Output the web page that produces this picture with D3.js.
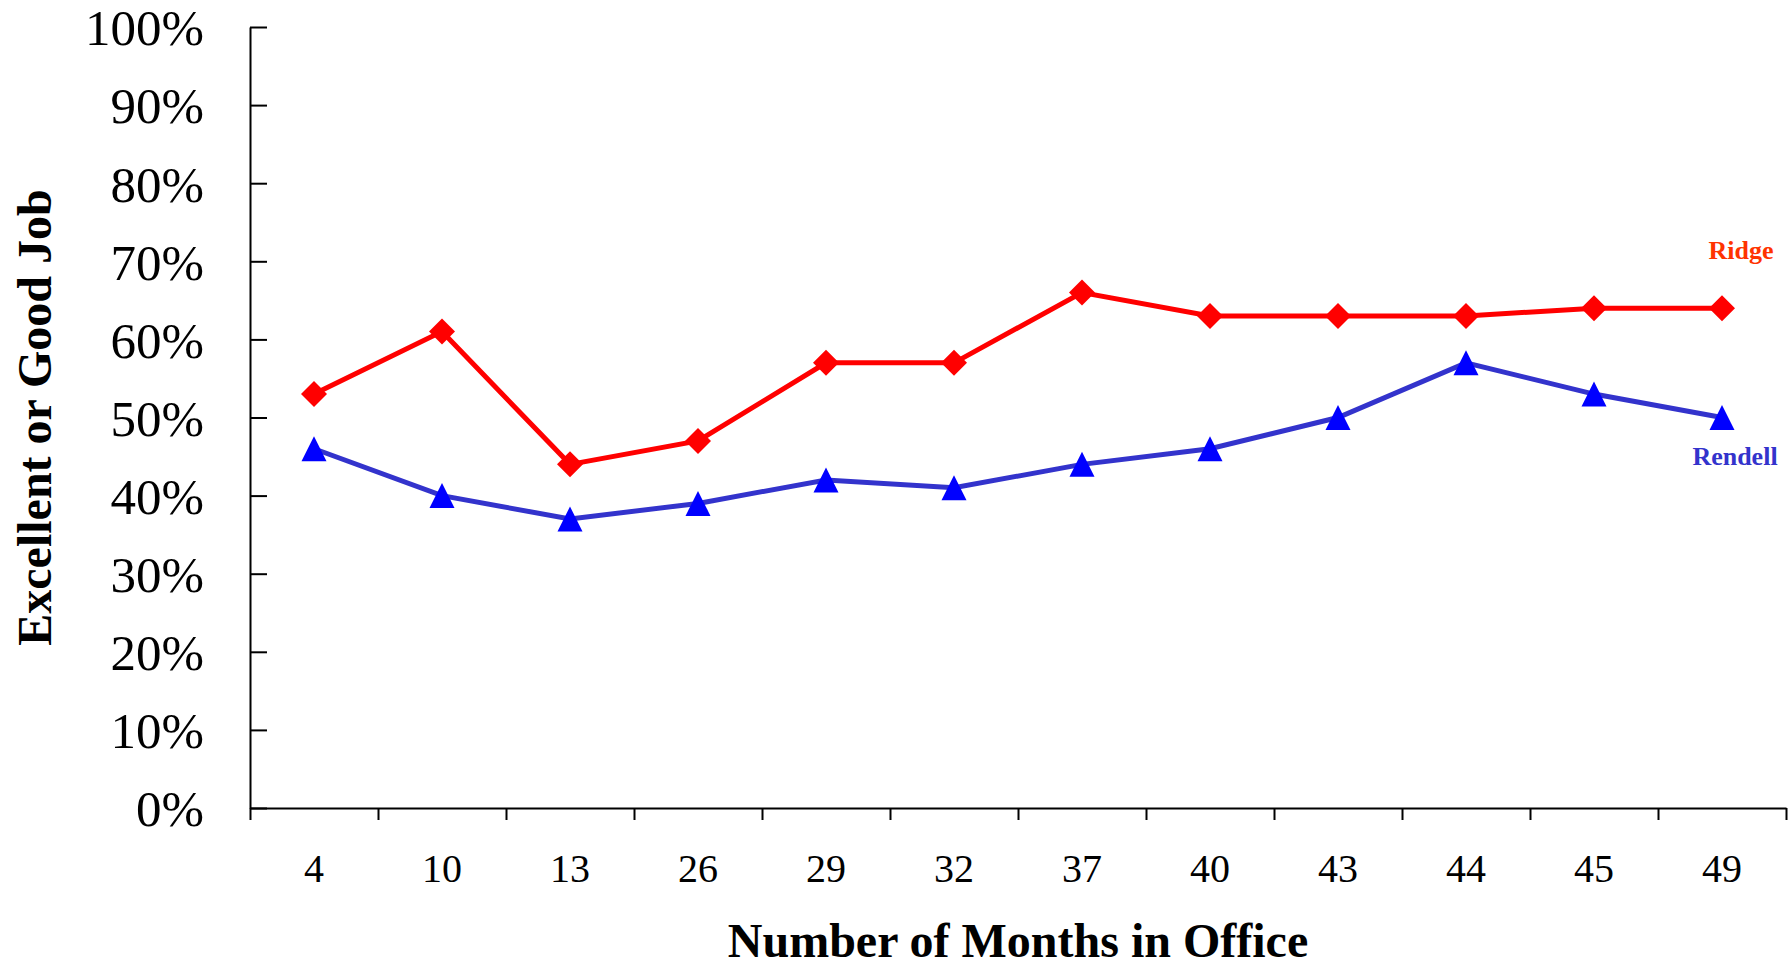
<!DOCTYPE html>
<html>
<head>
<meta charset="utf-8">
<script src="https://cdn.jsdelivr.net/npm/d3@7"></script>
<style>
  body { margin: 0; background: #fff; }
  svg { display: block; font-family: "Liberation Serif", "Times New Roman", serif; }
</style>
</head>
<body>
<div id="chart"></div>
<script>
// months in office (categories) and approval shares in percent
var months = ["4", "10", "13", "26", "29", "32", "37", "40", "43", "44", "45", "49"];
var ridge = [53, 61, 44, 47, 57, 57, 66, 63, 63, 63, 64, 64];
var rendell = [46, 40, 37, 39, 42, 41, 44, 46, 50, 57, 53, 50];
var yTicks = [0, 10, 20, 30, 40, 50, 60, 70, 80, 90, 100];

const chartWidth = 1792;
const chartHeight = 969;

const marginTop = 27;
const marginLeft = 250;
const plotRight = 1786;
const plotBottom = 808;

const serif = "'Liberation Serif', 'Times New Roman', serif";

var svg = d3.select("#chart")
            .append("svg")
            .attr("width", chartWidth)
            .attr("height", chartHeight);

var xScale = d3.scaleBand()
              .domain(months)
              .range([marginLeft, plotRight]);

// same span, used for the tick marks that sit between the categories
var edgeScale = d3.scaleLinear()
              .domain([0, months.length])
              .range([marginLeft, plotRight]);

var yScale = d3.scaleLinear()
              .domain([0, 100])
              .range([plotBottom, marginTop]);

// y axis: ticks point into the plot
var yAxis = d3.axisLeft(yScale)
              .tickValues(yTicks)
              .tickFormat(function(d) { return d + "%"; })
              .tickSizeInner(-17)
              .tickSizeOuter(0)
              .tickPadding(46);

var gy = svg.append("g")
  .attr("transform", "translate(" + marginLeft + ",0)")
  .call(yAxis)
  .attr("font-family", serif)
  .attr("font-size", 51);
gy.selectAll("text")
  .attr("dy", "0.35em")
  .attr("fill", "#000");

// x axis: tick marks at band edges
var xEdges = d3.axisBottom(edgeScale)
              .tickValues(d3.range(months.length + 1))
              .tickFormat("")
              .tickSizeInner(12)
              .tickSizeOuter(0);

svg.append("g")
  .attr("transform", "translate(0," + plotBottom + ")")
  .call(xEdges);

// labels at band centres
var xAxis = d3.axisBottom(xScale)
              .tickSize(0);

var gx = svg.append("g")
  .attr("transform", "translate(0," + plotBottom + ")")
  .call(xAxis)
  .attr("font-family", serif)
  .attr("font-size", 40);
gx.select(".domain").remove();
gx.selectAll("text")
  .attr("y", 74)
  .attr("dy", null)
  .attr("fill", "#000");

svg.selectAll(".domain, .tick line")
  .attr("stroke", "#000")
  .attr("stroke-width", 2);

// axis titles
svg.append("text")
  .attr("x", (marginLeft + plotRight) / 2)
  .attr("y", 957)
  .attr("text-anchor", "middle")
  .style("font-size", "48px")
  .style("font-weight", "bold")
  .text("Number of Months in Office");

svg.append("text")
  .attr("transform", "translate(51," + (marginTop + plotBottom) / 2 + ") rotate(-90)")
  .attr("text-anchor", "middle")
  .style("font-size", "48px")
  .style("font-weight", "bold")
  .text("Excellent or Good Job");

var line = d3.line()
  .x(function(d, i) { return xScale(months[i]) + xScale.bandwidth() / 2; })
  .y(function(d) { return yScale(d); });

// Rendell
svg.append("path")
  .datum(rendell)
  .attr("d", line)
  .attr("fill", "none")
  .attr("stroke", "#3333cc")
  .attr("stroke-width", 5);

// Ridge
svg.append("path")
  .datum(ridge)
  .attr("d", line)
  .attr("fill", "none")
  .attr("stroke", "#ff0000")
  .attr("stroke-width", 5);

// size here = box width in px
var diamondType = {
  draw: function(ctx, size) {
    var r = size / 2;
    ctx.moveTo(0, -r);
    ctx.lineTo(r, 0);
    ctx.lineTo(0, r);
    ctx.lineTo(-r, 0);
    ctx.closePath();
  }
};
var triangleType = {
  draw: function(ctx, size) {
    var r = size / 2;
    ctx.moveTo(0, -r);
    ctx.lineTo(r, r);
    ctx.lineTo(-r, r);
    ctx.closePath();
  }
};

var diamond = d3.symbol().type(diamondType).size(26);
var triangle = d3.symbol().type(triangleType).size(25);

svg.selectAll(".ridge-pt")
  .data(ridge)
  .enter()
  .append("path")
  .attr("class", "ridge-pt")
  .attr("d", diamond)
  .attr("transform", function(d, i) {
    return "translate(" + (xScale(months[i]) + xScale.bandwidth() / 2) + "," + yScale(d) + ")";
  })
  .attr("fill", "#ff0000");

svg.selectAll(".rendell-pt")
  .data(rendell)
  .enter()
  .append("path")
  .attr("class", "rendell-pt")
  .attr("d", triangle)
  .attr("transform", function(d, i) {
    return "translate(" + (xScale(months[i]) + xScale.bandwidth() / 2) + "," + yScale(d) + ")";
  })
  .attr("fill", "#0000ff");

// series labels at the right end
var lastX = xScale(months[months.length - 1]) + xScale.bandwidth() / 2;

svg.append("text")
  .attr("x", lastX + 19)
  .attr("y", 259)
  .attr("text-anchor", "middle")
  .style("font-size", "26px")
  .style("font-weight", "bold")
  .style("fill", "#ff3300")
  .text("Ridge");

svg.append("text")
  .attr("x", lastX + 13)
  .attr("y", 465)
  .attr("text-anchor", "middle")
  .style("font-size", "26px")
  .style("font-weight", "bold")
  .style("fill", "#3333cc")
  .text("Rendell");
</script>
</body>
</html>
